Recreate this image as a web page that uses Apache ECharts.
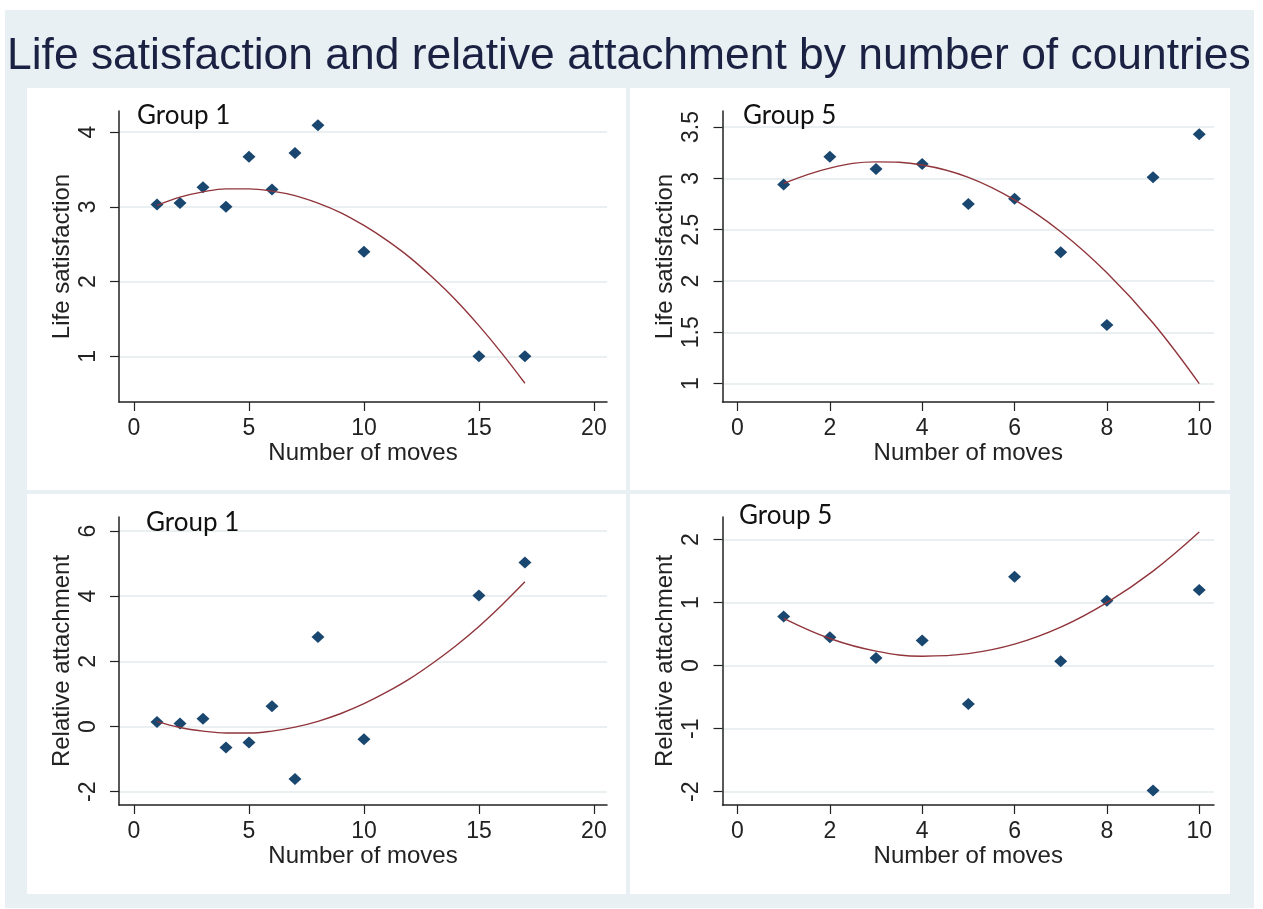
<!DOCTYPE html>
<html>
<head>
<meta charset="utf-8">
<script src="https://cdn.jsdelivr.net/npm/echarts@6/dist/echarts.min.js"></script>
<style>
  html, body { margin: 0; padding: 0; background: #ffffff; }
  #chart { width: 1263px; height: 909px; }
</style>
</head>
<body>
<div id="chart"></div>
<script>
// Number of moves (x) for each group
const movesG1 = [1, 2, 3, 4, 5, 6, 7, 8, 10, 15, 17];
const movesG5 = [1, 2, 3, 4, 5, 6, 7, 8, 9, 10];

// Mean life satisfaction by number of moves
const lifeSatG1 = [3.03, 3.05, 3.26, 3.00, 3.67, 3.23, 3.72, 4.09, 2.40, 1.00, 1.00];
const lifeSatG5 = [2.94, 3.21, 3.09, 3.14, 2.75, 2.80, 2.28, 1.57, 3.01, 3.43];

// Mean relative attachment by number of moves
const attachG1 = [0.14, 0.09, 0.24, -0.64, -0.49, 0.62, -1.61, 2.75, -0.39, 4.02, 5.03];
const attachG5 = [0.78, 0.45, 0.12, 0.40, -0.61, 1.41, 0.07, 1.03, -1.98, 1.20];

// Quadratic fit lines, sampled at each whole number of moves
const fitMovesG1 = [1, 2, 3, 4, 5, 6, 7, 8, 9, 10, 11, 12, 13, 14, 15, 16, 17];
const fitMovesG5 = [1, 2, 3, 4, 5, 6, 7, 8, 9, 10];
const lifeSatFitG1 = [3.02, 3.13, 3.20, 3.24, 3.24, 3.21, 3.15, 3.05, 2.92, 2.75, 2.55, 2.32, 2.05, 1.75, 1.41, 1.04, 0.64];
const lifeSatFitG5 = [2.95, 3.10, 3.16, 3.13, 3.01, 2.79, 2.48, 2.08, 1.59, 1.00];
const attachFitG1 = [0.15, -0.03, -0.14, -0.20, -0.20, -0.14, -0.02, 0.16, 0.40, 0.70, 1.06, 1.47, 1.95, 2.48, 3.07, 3.73, 4.44];
const attachFitG5 = [0.75, 0.43, 0.23, 0.15, 0.19, 0.34, 0.61, 1.00, 1.50, 2.12];

// Tick labels
const ticksMovesG1 = [0, 5, 10, 15, 20];
const ticksMovesG5 = [0, 2, 4, 6, 8, 10];
const ticksLifeSatG1 = [1, 2, 3, 4];
const ticksLifeSatG5 = [1, 1.5, 2, 2.5, 3, 3.5];
const ticksAttachG1 = [-2, 0, 2, 4, 6];
const ticksAttachG5 = [-2, -1, 0, 1, 2];

// Text
const mainTitle = 'Life satisfaction and relative attachment by number of countries';
const xName = 'Number of moves';
const yNameLife = 'Life satisfaction';
const yNameAttach = 'Relative attachment';

const NAVY = '#1a476f';
const MAROON = '#90353b';
const AXIS = '#222222';
const GRIDLINE = '#e3ebee';
const BG = '#e8f0f3';
const FONT = '"Liberation Sans", Arial, sans-serif';

const panels = [
  { label: 'Group 1', labelPos: [137, 103], grid: { left: 119, top: 111, width: 488, height: 291 },
    x: movesG1, y: lifeSatG1, fx: fitMovesG1, fy: lifeSatFitG1,
    xr: [-0.653, 20.57], yr: [0.389, 4.281], xt: ticksMovesG1, yt: ticksLifeSatG1, yName: yNameLife },
  { label: 'Group 5', labelPos: [743, 103], grid: { left: 722.5, top: 111, width: 491.5, height: 291 },
    x: movesG5, y: lifeSatG5, fx: fitMovesG5, fy: lifeSatFitG5,
    xr: [-0.325, 10.32], yr: [0.821, 3.656], xt: ticksMovesG5, yt: ticksLifeSatG5, yName: yNameLife },
  { label: 'Group 1', labelPos: [146, 510], grid: { left: 119, top: 517, width: 488, height: 288 },
    x: movesG1, y: attachG1, fx: fitMovesG1, fy: attachFitG1,
    xr: [-0.653, 20.57], yr: [-2.408, 6.429], xt: ticksMovesG1, yt: ticksAttachG1, yName: yNameAttach },
  { label: 'Group 5', labelPos: [739, 503], grid: { left: 722.5, top: 517, width: 491.5, height: 288 },
    x: movesG5, y: attachG5, fx: fitMovesG5, fy: attachFitG5,
    xr: [-0.325, 10.32], yr: [-2.211, 2.358], xt: ticksMovesG5, yt: ticksAttachG5, yName: yNameAttach }
];

const zip = (a, b) => a.map((v, i) => [v, b[i]]);

const axisLineStyle = { show: true, onZero: false, lineStyle: { color: AXIS, width: 1.5 } };
const tickStyle = { show: true, inside: false, length: 9, lineStyle: { color: AXIS, width: 1.2 } };

const option = {
  backgroundColor: '#ffffff',
  animation: false,
  graphic: {
    elements: [
      { type: 'rect', z: -100, shape: { x: 5, y: 10, width: 1249, height: 898 }, style: { fill: BG } },
      { type: 'rect', z: -90, shape: { x: 27, y: 88, width: 599, height: 402 }, style: { fill: '#ffffff' } },
      { type: 'rect', z: -90, shape: { x: 630, y: 88, width: 600, height: 402 }, style: { fill: '#ffffff' } },
      { type: 'rect', z: -90, shape: { x: 27, y: 494, width: 599, height: 400 }, style: { fill: '#ffffff' } },
      { type: 'rect', z: -90, shape: { x: 630, y: 494, width: 600, height: 400 }, style: { fill: '#ffffff' } }
    ]
  },
  title: [
    { text: mainTitle, left: 7, top: 35, padding: 0,
      textStyle: { fontFamily: FONT, fontSize: 44.4, fontWeight: 'normal', color: '#1a2142' } }
  ].concat(panels.map(p => ({
    text: p.label, left: p.labelPos[0], top: p.labelPos[1], padding: 0,
    textStyle: { fontFamily: 'Lato, "Open Sans", sans-serif', fontSize: 26, fontWeight: 'normal', color: '#111111' }
  }))),
  grid: panels.map(p => Object.assign({ containLabel: false }, p.grid)),
  xAxis: panels.map((p, i) => ({
    type: 'value', gridIndex: i, min: p.xr[0], max: p.xr[1],
    name: xName, nameLocation: 'middle', nameGap: 31,
    nameTextStyle: { fontFamily: FONT, fontSize: 24, color: '#222222' },
    axisLine: axisLineStyle,
    axisTick: Object.assign({ customValues: p.xt }, tickStyle),
    axisLabel: { customValues: p.xt, margin: 15, fontFamily: FONT, fontSize: 23, color: '#222222' },
    splitLine: { show: false }
  })),
  yAxis: panels.map((p, i) => ({
    type: 'value', gridIndex: i, min: p.yr[0], max: p.yr[1],
    name: p.yName, nameLocation: 'middle', nameGap: 45,
    nameTextStyle: { fontFamily: FONT, fontSize: 24, color: '#222222' },
    axisLine: axisLineStyle,
    axisTick: Object.assign({ customValues: p.yt }, tickStyle),
    axisLabel: { customValues: p.yt, rotate: 90, margin: 19, fontFamily: FONT, fontSize: 23, color: '#222222' },
    splitLine: { show: true, lineStyle: { color: GRIDLINE, width: 1.5 } }
  })),
  series: panels.flatMap((p, i) => [
    { type: 'scatter', xAxisIndex: i, yAxisIndex: i, data: zip(p.x, p.y),
      symbol: 'diamond', symbolSize: [13, 12], itemStyle: { color: NAVY, opacity: 1 }, z: 3 },
    { type: 'line', xAxisIndex: i, yAxisIndex: i, data: zip(p.fx, p.fy),
      smooth: 0.4, symbol: 'none', lineStyle: { color: MAROON, width: 1.4 }, z: 4 }
  ])
};

const chart = echarts.init(document.getElementById('chart'), null, { renderer: 'canvas' });
chart.setOption(option);
</script>
</body>
</html>
